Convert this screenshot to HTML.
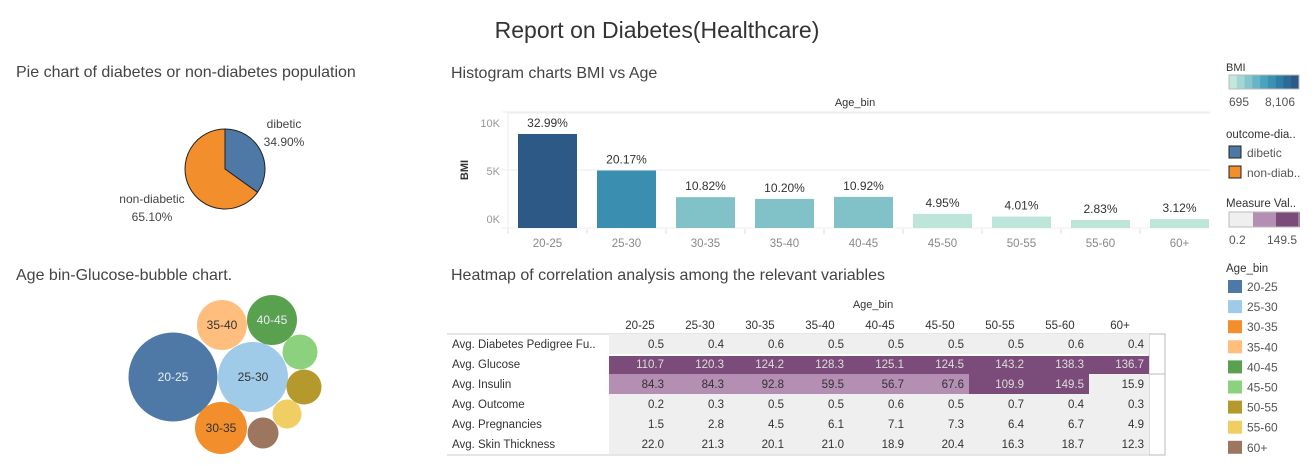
<!DOCTYPE html>
<html><head><meta charset="utf-8"><style>
html,body{margin:0;padding:0;background:#fff;width:1315px;height:466px;overflow:hidden}
svg{display:block;font-family:"Liberation Sans",sans-serif}
</style></head><body>
<svg id="root" width="1315" height="466" viewBox="0 0 1315 466">
<text x="657" y="38" text-anchor="middle" font-size="23" fill="#333">Report on Diabetes(Healthcare)</text>
<text x="16" y="77" font-size="16" fill="#444">Pie chart of diabetes or non-diabetes population</text>
<text x="451" y="78" font-size="16" fill="#444">Histogram charts BMI vs Age</text>
<text x="16" y="280" font-size="16" fill="#444">Age bin-Glucose-bubble chart.</text>
<text x="451" y="280" font-size="16" fill="#444">Heatmap of correlation analysis among the relevant variables</text>
<g id="pie"></g>
<g id="hist"></g>
<g id="bub"></g>
<g id="heat"></g>
<g id="legend"></g>
</svg>
<script>
const ageBins=["20-25","25-30","30-35","35-40","40-45","45-50","50-55","55-60","60+"];
const bmiValues=[8106,4956,2659,2506,2683,1216,985,695,767];
const bmiPct=["32.99%","20.17%","10.82%","10.20%","10.92%","4.95%","4.01%","2.83%","3.12%"];
const pieLabels=["dibetic","non-diabetic"];
const pieValues=[34.90,65.10];
const bubbleSizes=[44.5,35,26,25,25,17.5,17.5,14.5,15.5];
const heatRows=["Avg. Diabetes Pedigree Fu..","Avg. Glucose","Avg. Insulin","Avg. Outcome","Avg. Pregnancies","Avg. Skin Thickness"];
const heatDPF=[0.5,0.4,0.6,0.5,0.5,0.5,0.5,0.6,0.4];
const heatGlucose=[110.7,120.3,124.2,128.3,125.1,124.5,143.2,138.3,136.7];
const heatInsulin=[84.3,84.3,92.8,59.5,56.7,67.6,109.9,149.5,15.9];
const heatOutcome=[0.2,0.3,0.5,0.5,0.6,0.5,0.7,0.4,0.3];
const heatPreg=[1.5,2.8,4.5,6.1,7.1,7.3,6.4,6.7,4.9];
const heatSkin=[22.0,21.3,20.1,21.0,18.9,20.4,16.3,18.7,12.3];
const yTicks=[0,5000,10000];
const yTickLabels=["0K","5K","10K"];

const NS="http://www.w3.org/2000/svg";
function mk(parent,tag,attrs,text){const e=document.createElementNS(NS,tag);for(const k in attrs)e.setAttribute(k,attrs[k]);if(text!==undefined)e.textContent=text;parent.appendChild(e);return e;}
const ageColors=["#4e79a7","#a0cbe8","#f28e2b","#ffbe7d","#59a14f","#8cd17d","#b6992d","#f1ce63","#9d7660"];

// PIE
(function(){
const g=document.getElementById('pie');const cx=225,cy=169,r=40;
const tot=pieValues.reduce((a,b)=>a+b,0);let a0=-Math.PI/2;const cols=["#4e79a7","#f28e2b"];
pieValues.forEach((v,i)=>{const a1=a0+v/tot*2*Math.PI;const lg=(a1-a0)>Math.PI?1:0;
const p=mk(g,'path',{d:`M${cx},${cy}L${cx+r*Math.cos(a0)},${cy+r*Math.sin(a0)}A${r},${r} 0 ${lg} 1 ${cx+r*Math.cos(a1)},${cy+r*Math.sin(a1)}Z`,fill:cols[i],stroke:'#222','stroke-width':1});


a0=a1;});
const l1=mk(g,'text',{x:284,y:128,'text-anchor':'middle','font-size':12,fill:'#444'},pieLabels[0]);


const l2=mk(g,'text',{x:284,y:146,'text-anchor':'middle','font-size':12,fill:'#444'},pieValues[0].toFixed(2)+'%');


const l3=mk(g,'text',{x:152,y:203,'text-anchor':'middle','font-size':12,fill:'#444'},pieLabels[1]);


const l4=mk(g,'text',{x:152,y:221,'text-anchor':'middle','font-size':12,fill:'#444'},pieValues[1].toFixed(2)+'%');


})();

// HISTOGRAM
(function(){
const g=document.getElementById('hist');const x0=508,band=79,bw=59,y0=228,ppk=11.6/1000;
const yS=v=>y0-v*ppk;
const t=mk(g,'text',{x:855,y:106,'text-anchor':'middle','font-size':11,fill:'#333'},'Age_bin');


const yt=mk(g,'text',{x:468,y:170,'text-anchor':'middle','font-size':11,'font-weight':'bold',fill:'#333',transform:'rotate(-90 468 170)'},'BMI');


mk(g,'line',{x1:508,x2:1210,y1:113,y2:113,stroke:'#eee'});
yTicks.forEach((v,i)=>{mk(g,'line',{x1:502,x2:1210,y1:yS(v),y2:yS(v),stroke:'#eee'});
const tl=mk(g,'text',{x:500,y:[223,175,127][i],'text-anchor':'end','font-size':11,fill:'#999'},yTickLabels[i]);

});
mk(g,'line',{x1:508,x2:508,y1:113,y2:233,stroke:'#eee'});
const mx=Math.max(...bmiValues),mn=Math.min(...bmiValues);
function bcol(v){const t=(v-mn)/(mx-mn);if(t>0.8)return'#2c5985';if(t>0.5)return'#3a8fb0';if(t>0.2)return'#81c1c8';return'#bde5da';}
ageBins.forEach((b,i)=>{const x=x0+i*band+(band-bw)/2;const y=yS(bmiValues[i]);
const r=mk(g,'rect',{x:x,y:y,width:bw,height:y0-y,fill:bcol(bmiValues[i])});


const l=mk(g,'text',{x:x+bw/2,y:y-7,'text-anchor':'middle','font-size':12,fill:'#333'},bmiPct[i]);


mk(g,'line',{x1:x0+i*band,x2:x0+i*band,y1:229,y2:234,stroke:'#ddd'});
const xl=mk(g,'text',{x:x+bw/2,y:247,'text-anchor':'middle','font-size':11.5,fill:'#888'},b);

});
})();

// BUBBLES
(function(){
const g=document.getElementById('bub');
const pos=[[173,377],[253,377],[221,428],[222,325],[272,320],[300,352],[304,387],[287,414],[263,433]];
ageBins.forEach((b,i)=>{const c=mk(g,'circle',{cx:pos[i][0],cy:pos[i][1],r:bubbleSizes[i],fill:ageColors[i]});


if(i<5){const t=mk(g,'text',{x:pos[i][0],y:pos[i][1]+4,'text-anchor':'middle','font-size':12,fill:(i==0||i==4)?'#e8eef5':'#333'},b);

}});
})();

// HEATMAP
(function(){
const g=document.getElementById('heat');const data=[heatDPF,heatGlucose,heatInsulin,heatOutcome,heatPreg,heatSkin];
const cx0=609,cw=60,ry0=334,rh=20;
const t=mk(g,'text',{x:873,y:308,'text-anchor':'middle','font-size':11,fill:'#333'},'Age_bin');


ageBins.forEach((b,j)=>{const h=mk(g,'text',{x:cx0+j*cw+31,y:329,'text-anchor':'middle','font-size':11.5,fill:'#333'},b);

});
mk(g,'line',{x1:447,x2:1148,y1:334,y2:334,stroke:'#ccc'});
mk(g,'line',{x1:447,x2:1148,y1:455,y2:455,stroke:'#ccc'});
mk(g,'rect',{x:1149,y:334,width:16,height:121,fill:'#fff',stroke:'#bbb'});
mk(g,'line',{x1:1149,x2:1165,y1:374,y2:374,stroke:'#bbb'});
function col(v){if(v>=100)return'#7b4b79';if(v>=50)return'#b48fb3';return'#efefef';}
heatRows.forEach((rn,i)=>{const y=ry0+i*rh;
const l=mk(g,'text',{x:452,y:y+14,'font-size':11.5,fill:'#333'},rn);


data[i].forEach((v,j)=>{const c=col(v);
const r=mk(g,'rect',{x:cx0+j*cw,y:y+(i==1?2:0),width:cw,height:rh-(i==1?2:0),fill:c});


const tx=mk(g,'text',{x:cx0+j*cw+55,y:y+14,'text-anchor':'end','font-size':11.5,fill:c=='#efefef'?'#333':(c=='#7b4b79'?'#ddd':'#333')},v.toFixed(1));

});});
})();

// LEGENDS
(function(){
const g=document.getElementById('legend');
function T(x,y,s,name,fs,fill){const t=mk(g,'text',{x:x,y:y,'font-size':fs||11,fill:fill||'#333'},s);return t;}
T(1226,71,'BMI','bmi-legend-title');
const grad=["#c3e6dd","#a3d7d3","#85c6cc","#66b5c5","#4aa3bd","#3a91b3","#2f7ea6","#2c6a98","#2c5985"];
grad.forEach((c,i)=>mk(g,'rect',{x:1229+i*70/9,y:75,width:70/9+0.3,height:14,fill:c}));
mk(g,'rect',{x:1229,y:75,width:70,height:14,fill:'none',stroke:'#bbb'});
T(1229,106,'695','bmi-legend-min',12,'#555');T(1265,106,'8,106','bmi-legend-max',12,'#555');
T(1226,138,'outcome-dia..','outcome-legend-title',11.5);
[["dibetic","#4e79a7",146],["non-diab..","#f28e2b",166]].forEach(d=>{const r=mk(g,'rect',{x:1229,y:d[2],width:12,height:12,fill:d[1],stroke:'#222'});


T(1247,d[2]+11,d[0],'outcome-legend-label',12,'#555');});
T(1226,207,'Measure Val..','measure-legend-title',11.5);
[["#efefef",1229],["#b48fb3",1253],["#7b4b79",1276]].forEach(d=>mk(g,'rect',{x:d[1],y:212,width:24,height:15,fill:d[0]}));
mk(g,'rect',{x:1229,y:212,width:70,height:15,fill:'none',stroke:'#bbb'});
T(1229,244,'0.2','measure-legend-min',12,'#555');T(1267,244,'149.5','measure-legend-max',12,'#555');
T(1226,272,'Age_bin','age-legend-title',11.5);
ageBins.forEach((b,i)=>{const y=280+i*20.1;const r=mk(g,'rect',{x:1228,y:y,width:14,height:13,fill:ageColors[i]});


T(1247,y+11,b,'age-legend-label',12,'#555');});
})();
</script>
</body></html>
